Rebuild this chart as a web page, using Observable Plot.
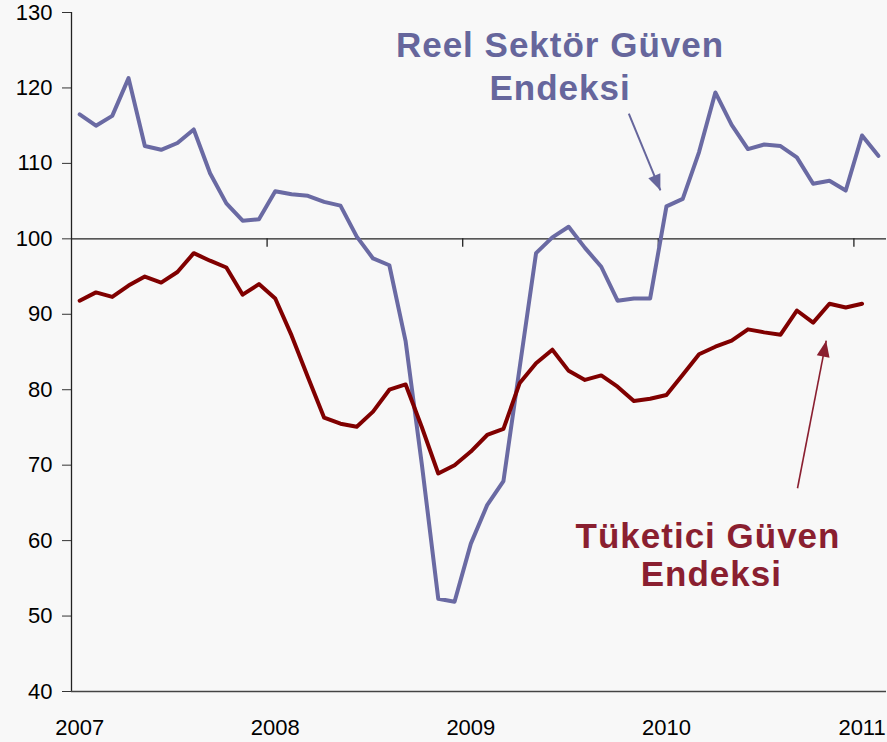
<!DOCTYPE html>
<html>
<head>
<meta charset="utf-8">
<script src="https://cdn.jsdelivr.net/npm/d3@7"></script>
<script src="https://cdn.jsdelivr.net/npm/@observablehq/plot@0.6"></script>
<style>
  html, body { margin: 0; padding: 0; background: #f8f8f8; }
  #chart svg { display: block; }
</style>
</head>
<body>
<div id="chart"></div>
<script>
// Monthly index values, Jan 2007 onward (index 0 = Jan 2007)
const yearLabels = ["2007", "2008", "2009", "2010", "2011"];
const yearTickIdx = [0, 12, 24, 36, 48];
const yearBoundaries = [11.5, 23.5, 35.5, 47.5];
const yTicks = [40, 50, 60, 70, 80, 90, 100, 110, 120, 130];

// Reel Sektör Güven Endeksi (Jan 2007 – Feb 2011)
const reelSektor = [
  116.5, 115.0, 116.3, 121.3, 112.3, 111.8, 112.7, 114.5, 108.7, 104.7, 102.4, 102.6,
  106.3, 105.9, 105.7, 104.9, 104.4, 100.3, 97.4, 96.5, 86.4, 70.0, 52.3, 51.9,
  59.6, 64.7, 67.9, 83.0, 98.1, 100.2, 101.6, 98.8, 96.3, 91.8, 92.1, 92.1,
  104.3, 105.3, 111.5, 119.4, 115.1, 111.9, 112.5, 112.3, 110.8, 107.3, 107.7, 106.4,
  113.7, 111.0
];

// Tüketici Güven Endeksi (Jan 2007 – Jan 2011)
const tuketici = [
  91.8, 92.9, 92.3, 93.8, 95.0, 94.2, 95.6, 98.1, 97.1, 96.2, 92.6, 94.0,
  92.1, 87.2, 81.7, 76.3, 75.5, 75.1, 77.1, 80.0, 80.7, 75.0, 68.9, 70.0,
  71.8, 74.0, 74.8, 80.9, 83.5, 85.3, 82.5, 81.3, 81.9, 80.4, 78.5, 78.8,
  79.3, 82.0, 84.7, 85.7, 86.5, 88.0, 87.6, 87.3, 90.5, 88.9, 91.4, 90.9,
  91.4
];

// Annotation texts (position in data units: month index, index value)
const labelText = ["Reel Sektör Güven", "Endeksi", "Tüketici Güven", "Endeksi"];
const labelX = [29.47, 29.47, 38.55, 38.75];
const labelY = [124.12, 118.45, 59.02, 53.93];
const labelSeries = ["reel", "reel", "tuketici", "tuketici"];

// Annotation arrows (data units)
const arrowX1 = [33.69, 44.04];
const arrowY1 = [116.59, 66.94];
const arrowX2 = [35.63, 45.80];
const arrowY2 = [106.41, 86.50];
const arrowSeries = ["reel", "tuketici"];

const colors = {
  reelLine: "#6a6aa3",
  tuketiciLine: "#800000",
  reelText: "#66669c",
  tuketiciText: "#8a1f30"
};

const reelData = reelSektor.map((v, i) => ({i, v}));
const tukData = tuketici.map((v, i) => ({i, v}));
const labels = labelText.map((t, k) => ({t, x: labelX[k], y: labelY[k], s: labelSeries[k]}));
const arrows = arrowX1.map((_, k) => ({x1: arrowX1[k], y1: arrowY1[k], x2: arrowX2[k], y2: arrowY2[k], s: arrowSeries[k]}));

function filledHead(color) {
  const m = d3.create("svg:marker")
    .attr("viewBox", "-16 -7 16 14")
    .attr("markerUnits", "userSpaceOnUse")
    .attr("markerWidth", 16)
    .attr("markerHeight", 14)
    .attr("refX", 0)
    .attr("refY", 0)
    .attr("orient", "auto")
    .attr("overflow", "visible");
  m.append("path").attr("d", "M-16,-6.5L0,0L-16,6.5Z").attr("fill", color).attr("stroke", "none");
  return m.node();
}

const chart = Plot.plot({
  width: 887,
  height: 742,
  marginLeft: 71,
  marginRight: 1,
  marginTop: 12,
  marginBottom: 51,
  style: {background: "#f8f8f8", fontFamily: "'Liberation Sans', Arial, sans-serif", color: "#000"},
  x: {type: "linear", domain: [-0.5, 49.5]},
  y: {domain: [40, 130]},
  marks: [
    Plot.axisY({ticks: yTicks, tickSize: 9, tickPadding: 10, fontSize: 22, label: null, stroke: "#333"}),
    Plot.axisX({ticks: yearTickIdx, tickFormat: (d) => yearLabels[yearTickIdx.indexOf(d)], tickSize: 0, tickPadding: 28, fontSize: 22, label: null}),
    Plot.ruleX([-0.5], {y1: 40, y2: 130, stroke: "#222", strokeWidth: 1.3}),
    Plot.ruleY([40], {stroke: "#444", strokeWidth: 1.3}),
    Plot.ruleY([100], {stroke: "#222", strokeWidth: 1.3}),
    Plot.ruleX(yearBoundaries, {y1: 100, y2: 98.9, stroke: "#222", strokeWidth: 1.3}),
    Plot.line(reelData, {x: "i", y: "v", stroke: colors.reelLine, strokeWidth: 4, strokeLinejoin: "round", strokeLinecap: "round"}),
    Plot.line(tukData, {x: "i", y: "v", stroke: colors.tuketiciLine, strokeWidth: 4, strokeLinejoin: "round", strokeLinecap: "round"}),
    Plot.link(arrows.filter(d => d.s === "reel"), {x1: "x1", y1: "y1", x2: "x2", y2: "y2", stroke: colors.reelText, strokeWidth: 2, markerEnd: filledHead}),
    Plot.link(arrows.filter(d => d.s === "tuketici"), {x1: "x1", y1: "y1", x2: "x2", y2: "y2", stroke: colors.tuketiciText, strokeWidth: 1.6, markerEnd: filledHead}),
    Plot.text(labels, {
      x: "x", y: "y", text: "t",
      fill: (d) => d.s === "reel" ? colors.reelText : colors.tuketiciText,
      fontSize: 35, fontWeight: "bold", textAnchor: "middle", lineAnchor: "bottom"
    })
  ]
});

// letter spacing to mimic the wide rendering of the original labels
d3.select(chart).selectAll("text").filter(function () {
  return labelText.includes(this.textContent);
}).style("letter-spacing", "1px");

document.getElementById("chart").appendChild(chart);
</script>
</body>
</html>
